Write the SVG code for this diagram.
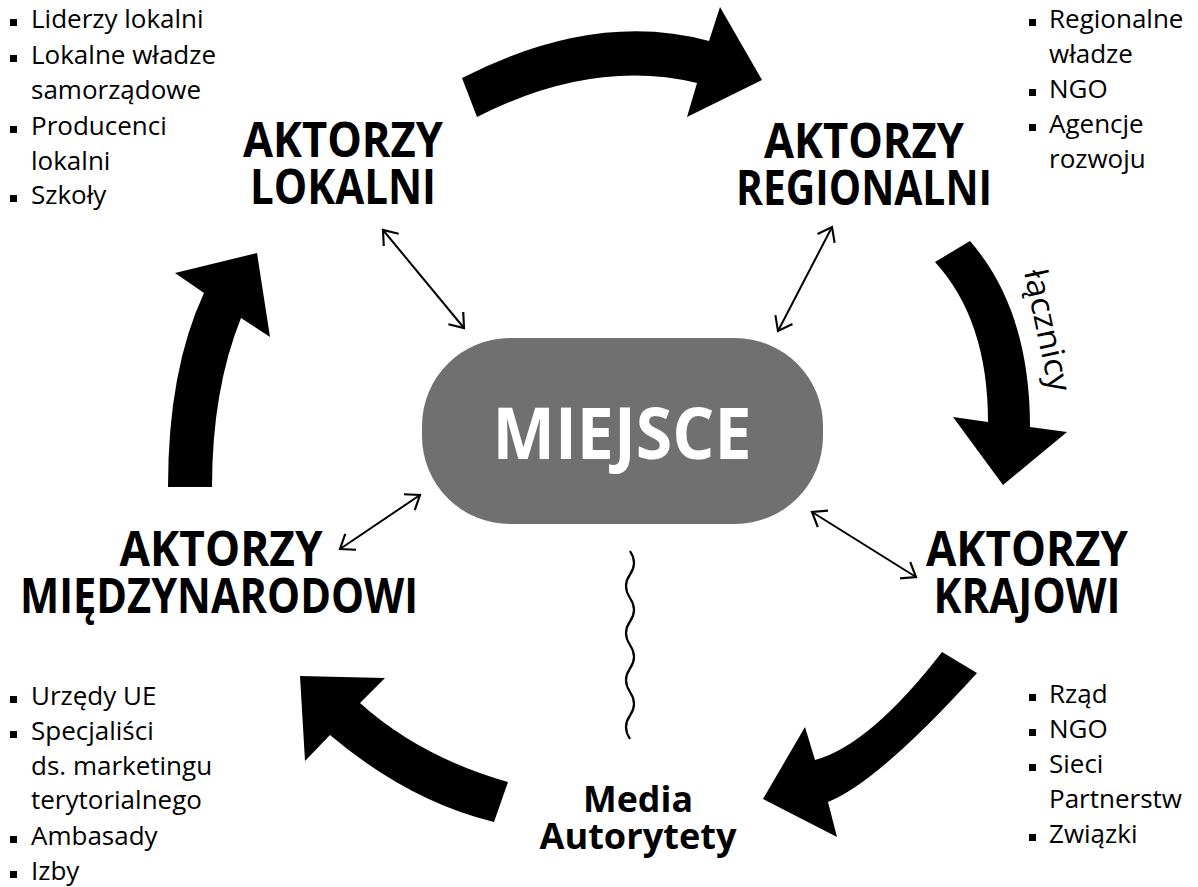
<svg xmlns="http://www.w3.org/2000/svg" width="1198" height="887" viewBox="0 0 1198 887">
<defs>
<style>
.bg{fill:#ffffff}
.big{fill:#000000}
.list{font-family:"Open Sans","Liberation Sans",sans-serif;font-size:26px;fill:#000}
.bul{fill:#000}
.head{font-family:"Open Sans","Liberation Sans",sans-serif;font-weight:700;font-size:48px;fill:#000;text-anchor:middle}
.media{font-family:"Open Sans","Liberation Sans",sans-serif;font-weight:700;font-size:36px;fill:#000;text-anchor:middle}
.center-text{font-family:"Open Sans","Liberation Sans",sans-serif;font-weight:700;font-size:72px;fill:#fff;text-anchor:middle}
.thin{stroke:#000;stroke-width:2;fill:none}
.wave{stroke:#000;stroke-width:2.2;fill:none}
.rot{font-family:"Open Sans","Liberation Sans",sans-serif;font-size:32px;fill:#000}
</style>
<marker id="ah" markerUnits="userSpaceOnUse" markerWidth="30" markerHeight="30" viewBox="-16 -14 20 28" refX="0" refY="0" orient="auto-start-reverse">
<path d="M-12,-9 L0,0 L-12,9" stroke="#000" stroke-width="2" fill="none"/>
</marker>
</defs>
<rect class="bg" x="0" y="0" width="1198" height="887"/>

<g id="connectors">
<path class="big" d="M462,78 Q595,10 709,41 L720,7 L762,80 L687,117 L697,83 Q593,58 477,117 Z"/>
<path class="big" d="M935,262 L970,241 Q1030,310 1030,427 L1067,432 L1003,485 L953,417 L988,422 Q988,320 935,262 Z"/>
<path class="big" d="M942,652 Q870,745 815,760 L805,727 L763,799 L837,837 L828,802 Q878,782 977,673 Z"/>
<path class="big" d="M508,782 Q420,757 360,703 L385,678 L300,676 L305,761 L330,735 Q408,801 494,822 Z"/>
<path class="big" d="M168,487 Q168,370 204,293 L175,273 L257,253 L270,337 L241,318 Q212,390 212,487 Z"/>
<line class="thin" x1="383" y1="230" x2="464" y2="328" marker-start="url(#ah)" marker-end="url(#ah)"/>
<line class="thin" x1="832" y1="227" x2="778" y2="331" marker-start="url(#ah)" marker-end="url(#ah)"/>
<line class="thin" x1="420" y1="495" x2="340" y2="549" marker-start="url(#ah)" marker-end="url(#ah)"/>
<line class="thin" x1="812" y1="512" x2="916" y2="577" marker-start="url(#ah)" marker-end="url(#ah)"/>
<path class="wave" d="M630,551 q8,12 0,23.5 t0,23.5 t0,23.5 t0,23.5 t0,23.5 t0,23.5 t0,23.5 t0,23.5"/>
<text class="rot" transform="translate(1024,272) rotate(78)" x="0" y="0" textLength="124" lengthAdjust="spacingAndGlyphs">łącznicy</text>
</g>

<g id="miejsce">
<rect x="422" y="338" width="401" height="186" rx="88" ry="88" fill="#707070"/>
<text class="center-text" x="622" y="459" textLength="259" lengthAdjust="spacingAndGlyphs">MIEJSCE</text>
</g>

<g id="aktorzy-lokalni">
<text class="head" x="343" y="157" textLength="200" lengthAdjust="spacingAndGlyphs">AKTORZY</text>
<text class="head" x="343" y="204" textLength="186" lengthAdjust="spacingAndGlyphs">LOKALNI</text>
</g>

<g id="aktorzy-regionalni">
<text class="head" x="864" y="158" textLength="200" lengthAdjust="spacingAndGlyphs">AKTORZY</text>
<text class="head" x="864" y="205" textLength="256" lengthAdjust="spacingAndGlyphs">REGIONALNI</text>
</g>

<g id="aktorzy-miedzynarodowi">
<text class="head" x="221" y="566" textLength="203" lengthAdjust="spacingAndGlyphs">AKTORZY</text>
<text class="head" x="219" y="613" textLength="398" lengthAdjust="spacingAndGlyphs">MIĘDZYNARODOWI</text>
</g>

<g id="aktorzy-krajowi">
<text class="head" x="1027" y="566" textLength="202" lengthAdjust="spacingAndGlyphs">AKTORZY</text>
<text class="head" x="1027" y="613" textLength="187" lengthAdjust="spacingAndGlyphs">KRAJOWI</text>
</g>

<g id="media">
<text class="media" x="638" y="812" textLength="110" lengthAdjust="spacingAndGlyphs">Media</text>
<text class="media" x="638" y="849" textLength="197" lengthAdjust="spacingAndGlyphs">Autorytety</text>
</g>

<g id="lista-lokalni">
<rect class="bul" x="10" y="19" width="7" height="7"/>
<text class="list" x="31" y="28">Liderzy lokalni</text>
<rect class="bul" x="10" y="55" width="7" height="7"/>
<text class="list" x="31" y="64">Lokalne władze</text>
<text class="list" x="31" y="99">samorządowe</text>
<rect class="bul" x="10" y="126" width="7" height="7"/>
<text class="list" x="31" y="135">Producenci</text>
<text class="list" x="31" y="170">lokalni</text>
<rect class="bul" x="10" y="195" width="7" height="7"/>
<text class="list" x="31" y="204">Szkoły</text>
</g>

<g id="lista-regionalni">
<rect class="bul" x="1029" y="19" width="7" height="7"/>
<text class="list" x="1049" y="28">Regionalne</text>
<text class="list" x="1049" y="63">władze</text>
<rect class="bul" x="1029" y="89" width="7" height="7"/>
<text class="list" x="1049" y="98">NGO</text>
<rect class="bul" x="1029" y="124" width="7" height="7"/>
<text class="list" x="1049" y="133">Agencje</text>
<text class="list" x="1049" y="168">rozwoju</text>
</g>

<g id="lista-krajowi">
<rect class="bul" x="1029" y="694" width="7" height="7"/>
<text class="list" x="1049" y="703">Rząd</text>
<rect class="bul" x="1029" y="729" width="7" height="7"/>
<text class="list" x="1049" y="738">NGO</text>
<rect class="bul" x="1029" y="764" width="7" height="7"/>
<text class="list" x="1049" y="773">Sieci</text>
<text class="list" x="1049" y="808">Partnerstw</text>
<rect class="bul" x="1029" y="834" width="7" height="7"/>
<text class="list" x="1049" y="843">Związki</text>
</g>

<g id="lista-miedzynarodowi">
<rect class="bul" x="10" y="696" width="7" height="7"/>
<text class="list" x="31" y="705">Urzędy UE</text>
<rect class="bul" x="10" y="731" width="7" height="7"/>
<text class="list" x="31" y="740">Specjaliści</text>
<text class="list" x="31" y="775">ds. marketingu</text>
<text class="list" x="31" y="809">terytorialnego</text>
<rect class="bul" x="10" y="836" width="7" height="7"/>
<text class="list" x="31" y="845">Ambasady</text>
<rect class="bul" x="10" y="871" width="7" height="7"/>
<text class="list" x="31" y="880">Izby</text>
</g>
</svg>
